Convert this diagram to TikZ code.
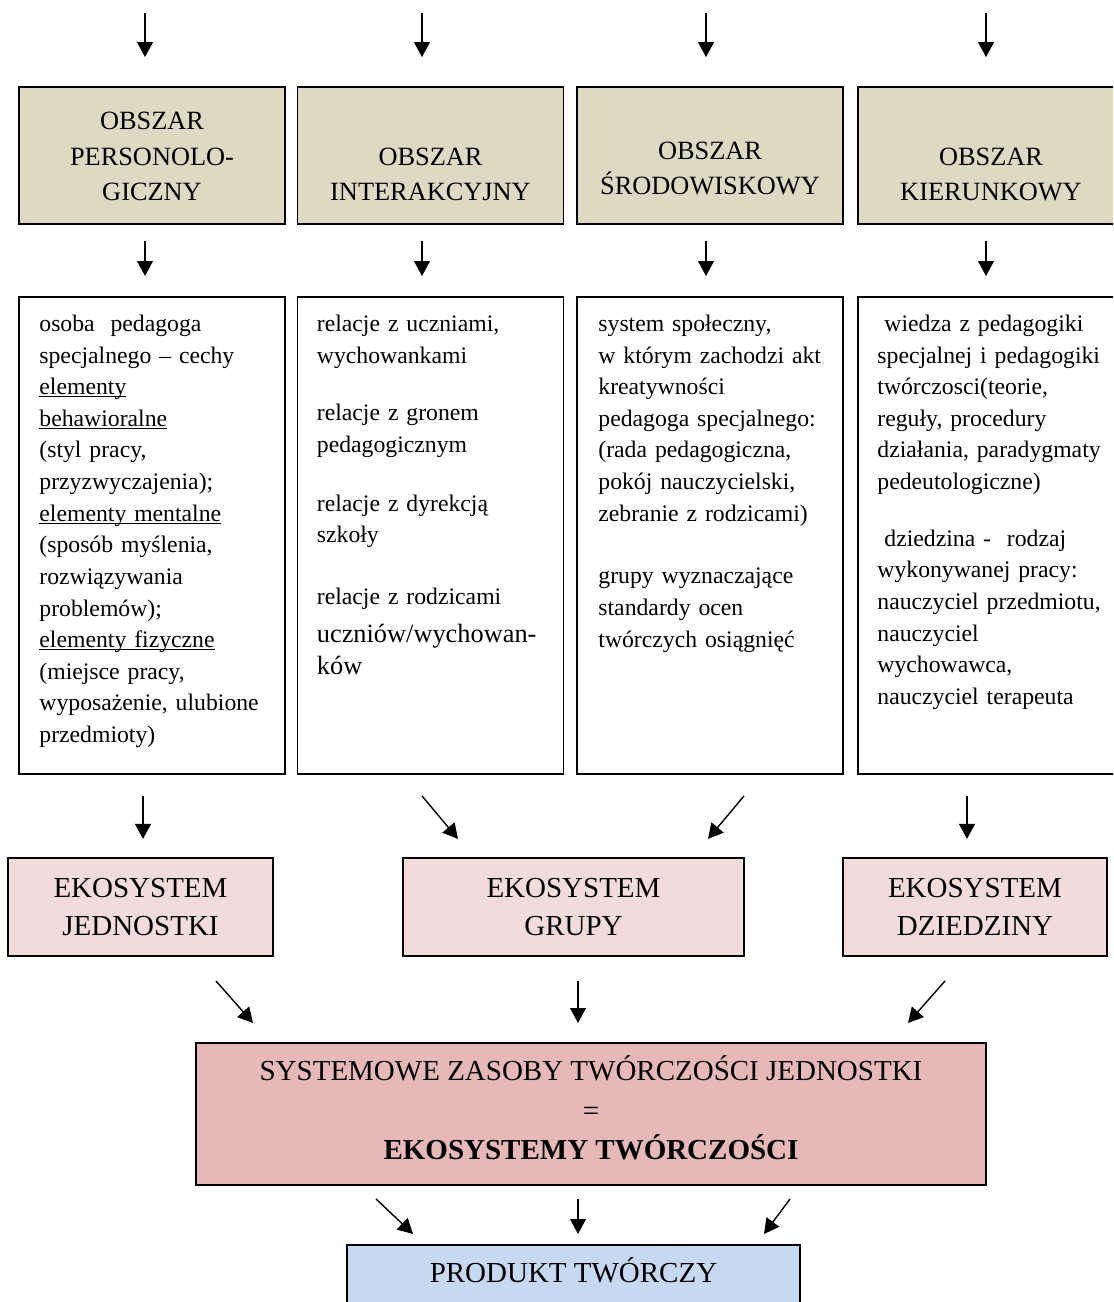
\documentclass[tikz,border=0pt]{standalone}
\usepackage{fontspec}
\setmainfont{Liberation Serif}
\usetikzlibrary{arrows.meta}

\definecolor{obszarkol}{HTML}{DDD9C3}
\definecolor{ekokol}{HTML}{F2DCDB}
\definecolor{zasobkol}{HTML}{E6B8B7}
\definecolor{produktkol}{HTML}{C6D9F1}

\newcommand{\podkr}[1]{\leavevmode{\setbox0\hbox{#1}\rlap{\rule[-1.6pt]{\wd0}{0.7pt}}\box0}}

\begin{document}
\begin{tikzpicture}[x=0.02cm,y=-0.02cm,
  ramka/.style={draw,line width=1.1pt,inner sep=0pt},
  obszar/.style={ramka,fill=obszarkol,minimum width=5.32cm,minimum height=2.74cm},
  opis/.style={ramka,minimum width=5.32cm,minimum height=9.54cm},
  eko/.style={ramka,fill=ekokol,minimum height=1.96cm,align=center,font=\fontsize{16.5}{21.5}\selectfont},
  naglowek/.style={align=center,inner sep=0pt,font=\fontsize{15}{20}\selectfont},
  tresc/.style={anchor=north west,inner sep=0pt,text width=5cm,align=left,font=\fontsize{13.5}{18}\selectfont},
  strz/.style={line width=0.8pt,-{Triangle[length=8.5pt,width=9pt]}}]

\useasboundingbox (0,0) rectangle (1113,1302);
\clip (0,0) rectangle (1113,1302);

\node[obszar] (ob1) at (152,155.5) {};
\node[obszar] (ob2) at (430.5,155.5) {};
\node[obszar] (ob3) at (710,155.5) {};
\node[obszar] (ob4) at (991,155.5) {};

\node[naglowek] (n1) at (152,156.5) {OBSZAR\\PERSONOLO-\\GICZNY};
\node[naglowek] (n2) at (430.5,174.3) {OBSZAR\\INTERAKCYJNY};
\node[naglowek] (n3) at (710,168.5) {OBSZAR\\[-0.6pt]ŚRODOWISKOWY};
\node[naglowek] (n4) at (991,174.3) {OBSZAR\\KIERUNKOWY};

\node[opis] (op1) at (152,535.5) {};
\node[opis] (op2) at (430.5,535.5) {};
\node[opis] (op3) at (710,535.5) {};
\node[opis] (op4) at (991,535.5) {};

\node[tresc] (tr1) at ([shift={(21,18.5)}]op1.north west) {osoba\ \ pedagoga\\
  specjalnego – cechy\\
  \podkr{elementy}\\
  \podkr{behawioralne}\\
  (styl pracy,\\
  przyzwyczajenia);\\
  \podkr{elementy mentalne}\\
  (sposób myślenia,\\
  rozwiązywania\\
  problemów);\\
  \podkr{elementy fizyczne}\\
  (miejsce pracy,\\
  wyposażenie, ulubione\\
  przedmioty)};
\node[tresc] (tr2) at ([shift={(20,18.5)}]op2.north west) {relacje z uczniami,\\
  wychowankami\\[14.9pt]
  relacje z gronem\\
  pedagogicznym\\[15.4pt]
  relacje z dyrekcją\\
  szkoły\\[17.1pt]
  relacje z rodzicami\par\vspace{3.4pt}
  {\fontsize{15}{18.1}\selectfont uczniów/wychowan-\\ków\par}};
\node[tresc] (tr3) at ([shift={(22,18.5)}]op3.north west) {system społeczny,\\
  w którym zachodzi akt\\
  kreatywności\\
  pedagoga specjalnego:\\
  (rada pedagogiczna,\\
  pokój nauczycielski,\\
  zebranie z rodzicami)\\[17.7pt]
  grupy wyznaczające\\
  standardy ocen\\
  twórczych osiągnięć};
\node[tresc] (tr4) at ([shift={(20,18.5)}]op4.north west) {\hspace*{4pt}wiedza z pedagogiki\\
  specjalnej i pedagogiki\\
  twórczosci(teorie,\\
  reguły, procedury\\
  działania, paradygmaty\\
  pedeutologiczne)\\[14.3pt]
  \hspace*{4pt}dziedzina -\ \ rodzaj\\
  wykonywanej pracy:\\
  nauczyciel przedmiotu,\\
  nauczyciel\\
  wychowawca,\\
  nauczyciel terapeuta};

\node[eko,minimum width=5.3cm] (ek1) at (140.5,907) {EKOSYSTEM\\JEDNOSTKI};
\node[eko,minimum width=6.82cm] (ek2) at (573.5,907) {EKOSYSTEM\\GRUPY};
\node[eko,minimum width=5.28cm] (ek3) at (975,907) {EKOSYSTEM\\DZIEDZINY};

\node[ramka,fill=zasobkol,minimum width=15.8cm,minimum height=2.84cm,align=center,
  font=\fontsize{16.5}{22.5}\selectfont] (zasoby) at (591,1114)
  {SYSTEMOWE ZASOBY TWÓRCZOŚCI JEDNOSTKI\\=\\\textbf{EKOSYSTEMY TWÓRCZOŚCI}\rule[-7pt]{0pt}{7pt}};

\node[ramka,fill=produktkol,minimum width=9.06cm,minimum height=1.5cm,
  font=\fontsize{16.5}{20}\selectfont,text height=10.9pt,text depth=10.8pt] (produkt)
  at (573.5,1282.5) {PRODUKT TWÓRCZY};

\foreach \n/\dx in {ob1/-7,ob2/-8.5,ob3/-4,ob4/-5}{
  \draw[strz] ([shift={(\dx,-73)}]\n.north) -- ++(0,44);
  \draw[strz] ([shift={(\dx,16)}]\n.south) -- ++(0,35);
}

\draw[strz] ([shift={(-9,21)}]op1.south) -- ++(0,43);
\draw[strz] ([shift={(-8.5,21)}]op2.south) -- ++(36,43);
\draw[strz] ([shift={(34,21)}]op3.south) -- ++(-36,43);
\draw[strz] ([shift={(-24,21)}]op4.south) -- ++(0,43);

\draw[strz] ([shift={(75.5,24)}]ek1.south) -- ++(37,42);
\draw[strz] ([shift={(4.5,24)}]ek2.south) -- ++(0,42);
\draw[strz] ([shift={(-30,24)}]ek3.south) -- ++(-37,42);

\draw[strz] ([shift={(-215,13)}]zasoby.south) -- ++(37,35);
\draw[strz] ([shift={(-13,13)}]zasoby.south) -- ++(0,35);
\draw[strz] ([shift={(199,13)}]zasoby.south) -- ++(-26,35);

\end{tikzpicture}
\end{document}
